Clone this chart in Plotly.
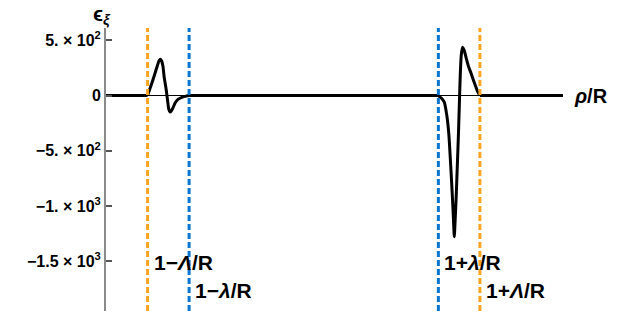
import plotly.graph_objects as go

# Layer half-widths (in units of R) and plotted ρ/R window
Lambda_R = 0.4
lambda_R = 0.3
rho_min, rho_max = 0.5, 1.6

# Strain ε_ξ across the inner transition layer (ρ/R from 1−Λ/R to 1−λ/R)
rho_inner = [0.600, 0.608, 0.616, 0.623, 0.628, 0.631, 0.634, 0.637, 0.640, 0.645,
             0.649, 0.651, 0.654, 0.657, 0.662, 0.667, 0.674, 0.684, 0.693, 0.700]
eps_inner = [0, 86, 177, 263, 317, 328, 313, 267, 168, 50,
             -68, -122, -149, -140, -104, -63, -32, -14, -5, 0]

# Strain ε_ξ across the outer transition layer (ρ/R from 1+λ/R to 1+Λ/R)
rho_outer = [1.300, 1.307, 1.3142, 1.3202, 1.325, 1.3299, 1.3342, 1.3366, 1.3383, 1.3402,
             1.3426, 1.3455, 1.3484, 1.3508, 1.3527, 1.3551, 1.3582, 1.362, 1.367, 1.373,
             1.3785, 1.386, 1.394, 1.400]
eps_outer = [0, -23, -59, -177, -340, -648, -947, -1146, -1279, -1146,
             -947, -648, -340, -41, 186, 367, 437, 412, 340, 258,
             204, 122, 41, 0]

# y-axis ticks
y_ticks = [500, 0, -500, -1000, -1500]
y_tick_text = ["5. × 10<sup>2</sup>", "0", "−5. × 10<sup>2</sup>",
               "−1. × 10<sup>3</sup>", "−1.5 × 10<sup>3</sup>"]
y_range = [-1952, 612]

ORANGE = "#FFA51F"
BLUE = "#0A76CF"
FONT = "Liberation Sans"

boundaries = [
    (1 - Lambda_R, ORANGE, "1−<i>Λ</i>/R", -1510),
    (1 - lambda_R, BLUE, "1−<i>λ</i>/R", -1765),
    (1 + lambda_R, BLUE, "1+<i>λ</i>/R", -1510),
    (1 + Lambda_R, ORANGE, "1+<i>Λ</i>/R", -1765),
]

fig = go.Figure()

# flat (zero-strain) parts of the profile outside the layers
flat_x = [rho_min, 1 - Lambda_R, None, 1 - lambda_R, 1 + lambda_R, None, 1 + Lambda_R, rho_max]
flat_y = [0, 0, None, 0, 0, None, 0, 0]
fig.add_trace(go.Scatter(x=flat_x, y=flat_y, mode="lines",
                         line=dict(color="black", width=3), hoverinfo="skip"))

for xs, ys in [(rho_inner, eps_inner), (rho_outer, eps_outer)]:
    fig.add_trace(go.Scatter(x=xs, y=ys, mode="lines",
                             line=dict(color="black", width=3, shape="spline", smoothing=0.6),
                             hoverinfo="skip"))

for xb, col, label, ylab in boundaries:
    fig.add_shape(type="line", xref="x", yref="paper", x0=xb, x1=xb, y0=0, y1=1,
                  line=dict(color=col, width=3, dash="6px,3px"), layer="above")
    fig.add_annotation(x=xb, y=ylab, xref="x", yref="y", text=label, showarrow=False,
                       xanchor="left", yanchor="middle", xshift=4,
                       font=dict(family=FONT, size=21, color="black", weight="bold"))

# axis labels
fig.add_annotation(x=rho_max, y=0, xref="x", yref="y", text="<i>ρ</i>/R",
                   showarrow=False, xanchor="left", yanchor="middle", xshift=9,
                   font=dict(family=FONT, size=20, color="black", weight="bold"))
fig.add_annotation(x=rho_min, y=1, xref="x", yref="paper", text="ϵ<sub><i>ξ</i></sub>",
                   showarrow=False, xanchor="center", yanchor="bottom", xshift=-4, yshift=-2,
                   font=dict(family=FONT, size=21, color="black", weight="bold"))

fig.update_layout(
    width=630, height=320,
    margin=dict(l=106, r=67, t=28, b=9),
    plot_bgcolor="white", paper_bgcolor="white",
    showlegend=False,
)
fig.update_xaxes(range=[rho_min, rho_max], showgrid=False, zeroline=False,
                 showticklabels=False, showline=False, ticks="")
fig.update_yaxes(range=y_range, showgrid=False,
                 zeroline=True, zerolinecolor="black", zerolinewidth=1,
                 showline=True, linecolor="#8a8a8a", linewidth=2,
                 ticks="inside", ticklen=6, tickcolor="#555555", tickwidth=1.5,
                 tickvals=y_ticks, ticktext=y_tick_text,
                 tickfont=dict(family=FONT, size=16, color="black", weight="bold"))

fig.write_html("out.html")
